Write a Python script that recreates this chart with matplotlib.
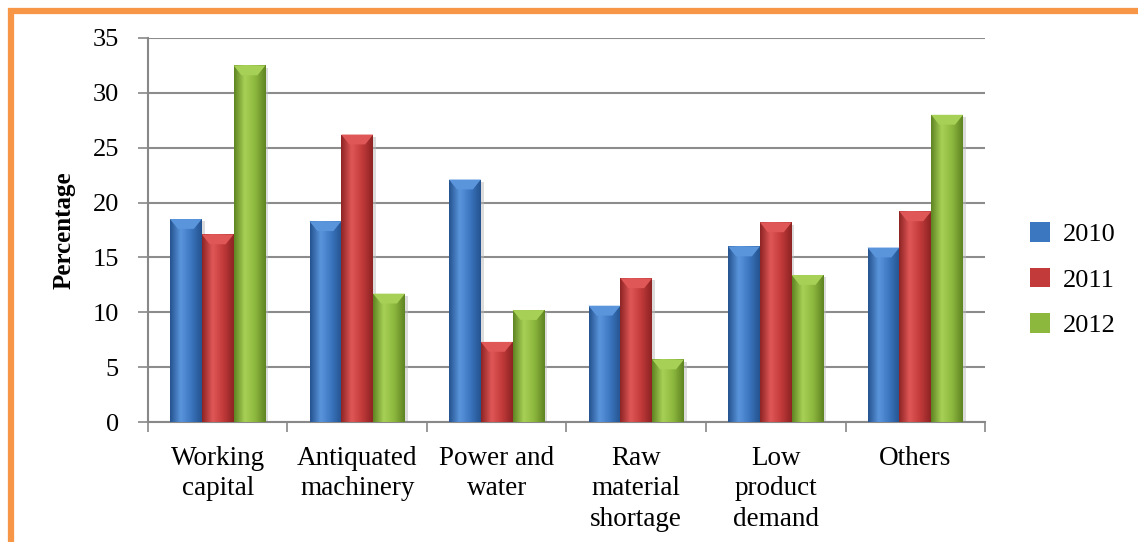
import matplotlib.pyplot as plt
import numpy as np
from matplotlib.patches import Rectangle
from matplotlib.colors import LinearSegmentedColormap

plt.rcParams['font.family'] = ['Liberation Serif', 'DejaVu Serif']

categories = ['Working\ncapital', 'Antiquated\nmachinery', 'Power and\nwater',
              'Raw\nmaterial\nshortage', 'Low\nproduct\ndemand', 'Others']
years = ['2010', '2011', '2012']
v2010 = [18.5, 18.3, 22.1, 10.6, 16.0, 15.9]
v2011 = [17.1, 26.2, 7.3, 13.1, 18.2, 19.2]
v2012 = [32.5, 11.7, 10.2, 5.7, 13.4, 28.0]
colors = ['#3b76c0', '#c23a3a', '#8db83e']
dark = ['#25538f', '#8e2424', '#5f8423']
light = ['#5a95dc', '#e05757', '#a7d156']

fig = plt.figure(figsize=(11.38, 5.42), dpi=100)
ax = fig.add_axes([0.130, 0.2214, 0.7356, 0.7085])

x = np.arange(len(categories))
w = 0.228
for i, vals in enumerate([v2010, v2011, v2012]):
    bars = ax.bar(x + (i - 1) * w, vals, w, color=colors[i], label=years[i],
                  zorder=3, edgecolor='none')
    cmap = LinearSegmentedColormap.from_list('c%d' % i, [dark[i], light[i], colors[i], dark[i]])
    grad = np.linspace(0, 1, 64).reshape(1, -1)
    for b in bars:
        x0, y0 = b.get_x(), b.get_y()
        bw, bh = b.get_width(), b.get_height()
        im = ax.imshow(grad, cmap=cmap, aspect='auto', zorder=3.5,
                       extent=[x0, x0 + bw, y0, y0 + bh], interpolation='bicubic')
        im.set_clip_path(b)
        # bevelled top
        ax.fill([x0, x0 + bw, x0 + bw * 0.75, x0 + bw * 0.25],
                [bh, bh, bh - 0.9, bh - 0.9], color=light[i], zorder=4, lw=0)
        # soft shadow on the right
        ax.add_patch(Rectangle((x0 + bw, 0), 0.02, bh - 0.2, color='#bbbbbb',
                               alpha=0.5, zorder=2, lw=0))

ax.set_xlim(-0.5, len(categories) - 0.5)
ax.set_ylim(0, 35)
ax.set_yticks(np.arange(0, 36, 5))
ax.set_xticks(x)
ax.set_xticklabels(categories, fontsize=19.5, linespacing=1.3)
ax.set_xticks(np.arange(-0.5, len(categories)), minor=True)
ax.tick_params(axis='x', which='major', length=0, pad=17)
ax.tick_params(axis='x', which='minor', length=7, color='#888888', width=1.2)
ax.tick_params(axis='y', labelsize=19, length=7, color='#888888', width=1.2, pad=14)
ax.yaxis.grid(True, color='#8c8c8c', lw=1.5, zorder=0)
ax.set_axisbelow(True)
for s in ['top', 'right']:
    ax.spines[s].set_visible(False)
for s in ['left', 'bottom']:
    ax.spines[s].set_color('#888888')
    ax.spines[s].set_linewidth(1.5)
ax.set_ylabel('Percentage', fontsize=18, fontweight='bold', labelpad=12)

ax.legend(loc='center left', bbox_to_anchor=(1.025, 0.37), frameon=False,
          fontsize=19, handlelength=0.75, handleheight=0.75, labelspacing=0.82,
          handletextpad=0.5)

fig.add_artist(Rectangle((11 / 1138, -0.1), 1.2, 1 - 11 / 542 + 0.1,
                         transform=fig.transFigure, fill=False,
                         edgecolor='#f79646', lw=4.5))

fig.savefig('out.png', dpi=100)
